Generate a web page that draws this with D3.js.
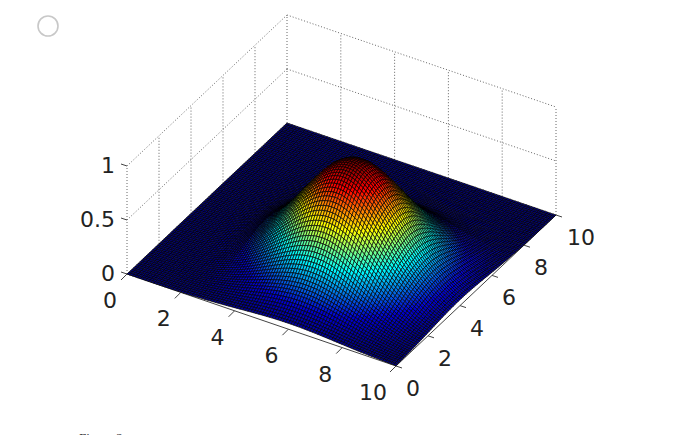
<!DOCTYPE html>
<html><head><meta charset="utf-8">
<script src="https://cdn.jsdelivr.net/npm/d3@7"></script>
<style>html,body{margin:0;padding:0;background:#fff;overflow:hidden}svg{display:block}</style>
</head><body><svg id="c" width="699" height="435"></svg>
<script>
const xTicks=[0,2,4,6,8,10];
const yTicks=[0,2,4,6,8,10];
const zTicks=[0,0.5,1];
const peakHeight=0.99;
// mesh line positions shared by both floor axes
const gridX=[0,.1,.2,.3,.4,.5,.6,.7,.8,.9,1,1.1,1.2,1.3,1.4,1.5,1.6,1.7,1.8,1.9,2,2.1,2.2,2.3,2.4,2.5,2.6,2.7,2.8,2.9,3,3.1,3.2,3.3,3.4,3.5,3.6,3.7,3.8,3.9,4,4.1,4.2,4.3,4.4,4.5,4.6,4.7,4.8,4.9,5,5.1,5.2,5.3,5.4,5.5,5.6,5.7,5.8,5.9,6,6.1,6.2,6.3,6.4,6.5,6.6,6.7,6.8,6.9,7,7.1,7.2,7.3,7.4,7.5,7.6,7.7,7.8,7.9,8,8.1,8.2,8.3,8.4,8.5,8.6,8.7,8.8,8.9,9,9.1,9.2,9.3,9.4,9.5,9.6,9.7,9.8,9.9,10];
// relative height along x, one value per mesh line
const profileX=[.0012,.0015,.0018,.0023,.0028,.0034,.0042,.0051,.0063,.0077,.0094,.0114,.0138,.0167,.0200,.0240,.0285,.0338,.0400,.0470,.0553,.0657,.0777,.0913,.1070,.1247,.1445,.1668,.1922,.2122,.2339,.2576,.2824,.3088,.3361,.3653,.3953,.4262,.4582,.4910,.5245,.5587,.5932,.6275,.6619,.6957,.7289,.7614,.7929,.8228,.8510,.8776,.9020,.9240,.9436,.9605,.9745,.9856,.9936,.9984,1,.9984,.9936,.9856,.9745,.9605,.9436,.9240,.9020,.8776,.8510,.8228,.7929,.7614,.7289,.6957,.6619,.6275,.5932,.5587,.5245,.4910,.4582,.4262,.3953,.3653,.3361,.3088,.2824,.2576,.2339,.2122,.1922,.1668,.1445,.1247,.1070,.0913,.0777,.0657,.0553];
// relative height along y, one value per mesh line
const profileY=[.0553,.0657,.0777,.0913,.1070,.1247,.1445,.1668,.1922,.2122,.2339,.2576,.2824,.3088,.3361,.3653,.3953,.4262,.4582,.4910,.5245,.5587,.5932,.6275,.6619,.6957,.7289,.7614,.7929,.8228,.8510,.8776,.9020,.9240,.9436,.9605,.9745,.9856,.9936,.9984,1,.9984,.9936,.9856,.9745,.9605,.9436,.9240,.9020,.8776,.8510,.8228,.7929,.7614,.7289,.6957,.6619,.6275,.5932,.5587,.5245,.4910,.4582,.4262,.3953,.3653,.3361,.3088,.2824,.2576,.2339,.2122,.1922,.1668,.1445,.1247,.1070,.0913,.0777,.0657,.0553,.0470,.0400,.0338,.0285,.0240,.0200,.0167,.0138,.0114,.0094,.0077,.0063,.0051,.0042,.0034,.0028,.0023,.0018,.0015,.0012];
const jetStops=[0,0.125,0.375,0.625,0.875,1];
const jetColors=["#000080","#0000d8","#00ffff","#ffff00","#ff0000","#800000"];

const svg=d3.select("#c");
svg.append("defs").append("filter").attr("id","soft").attr("x","-5%").attr("y","-5%").attr("width","110%").attr("height","110%")
  .append("feGaussianBlur").attr("stdDeviation",0.5);
const xToX=d3.scaleLinear().domain([0,10]).range([0,269]);
const xToY=d3.scaleLinear().domain([0,10]).range([0,92]);
const yToX=d3.scaleLinear().domain([0,10]).range([0,160]);
const yToY=d3.scaleLinear().domain([0,10]).range([0,-151]);
const zToY=d3.scaleLinear().domain([0,1]).range([0,-108]);
const ox=127, oy=274;
const P=(x,y,z)=>[ox+xToX(x)+yToX(y), oy+xToY(x)+yToY(y)+zToY(z)];
const line=d3.line();
const jet=d3.scaleLinear().domain(jetStops).range(jetColors).interpolate(d3.interpolateRgb);

// walls
const grid=svg.append("g").attr("fill","none").attr("stroke","#555").attr("stroke-width",0.9).attr("stroke-dasharray","1,2");
yTicks.forEach(y=>grid.append("path").attr("d",line([P(0,y,0),P(0,y,1)])));
xTicks.slice(1).forEach(x=>grid.append("path").attr("d",line([P(x,10,0),P(x,10,1)])));
zTicks.slice(1).forEach(z=>{
  grid.append("path").attr("d",line([P(0,0,z),P(0,10,z)]));
  grid.append("path").attr("d",line([P(0,10,z),P(10,10,z)]));
});

// axis lines
const ax=svg.append("g").attr("fill","none").attr("stroke","#444").attr("stroke-width",1);
ax.append("path").attr("d",line([P(0,0,0),P(10,0,0)]));
ax.append("path").attr("d",line([P(10,0,0),P(10,10,0)]));
xTicks.forEach(x=>{const a=P(x,0,0);ax.append("path").attr("d",line([a,[a[0]-6,a[1]+6]]));});
yTicks.forEach(y=>{const a=P(10,y,0);ax.append("path").attr("d",line([a,[a[0]+6,a[1]+2]]));});
zTicks.forEach(z=>{const a=P(0,0,z);ax.append("path").attr("d",line([a,[a[0]-6,a[1]-2]]));});

// surface, painted back to front
const cells=[];
const n=gridX.length-1;
const h=(i,j)=>peakHeight*profileX[i]*profileY[j];
for(let i=0;i<n;i++)for(let j=n-1;j>=0;j--)cells.push([i,j]);
svg.append("g").attr("filter","url(#soft)").attr("stroke","#000").attr("stroke-width",0.7).attr("stroke-linejoin","round")
 .selectAll("path").data(cells).join("path")
 .attr("d",([i,j])=>line([P(gridX[i],gridX[j],h(i,j)),P(gridX[i+1],gridX[j],h(i+1,j)),P(gridX[i+1],gridX[j+1],h(i+1,j+1)),P(gridX[i],gridX[j+1],h(i,j+1))])+"Z")
 .attr("fill",([i,j])=>jet(h(i,j)/peakHeight));

// tick labels
const lab=svg.append("g").attr("font-family","DejaVu Sans").attr("font-size",22).attr("fill","#222").attr("text-anchor","middle");
const xLabelPos=xTicks.map(x=>{const a=P(x,0,0);return [a[0]-17,a[1]+34];});
lab.selectAll("text.x").data(xTicks).join("text").attr("class","x").text(d=>d)
 .attr("x",(d,i)=>xLabelPos[i][0]+(d==10?-6:0)).attr("y",(d,i)=>xLabelPos[i][1]);
lab.selectAll("text.y").data(yTicks).join("text").attr("class","y").text(d=>d)
 .attr("x",d=>P(10,d,0)[0]+(d==10?25:17)).attr("y",d=>P(10,d,0)[1]+30);
lab.selectAll("text.z").data(zTicks).join("text").attr("class","z").text(d=>d)
 .attr("text-anchor","end").attr("x",115).attr("y",d=>P(0,0,d)[1]+7);

// page furniture around the chart
svg.append("circle").attr("cx",48).attr("cy",26).attr("r",10).attr("fill","#fff").attr("stroke","#c8c8c8").attr("stroke-width",1.6);
svg.append("text").attr("x",79).attr("y",442).attr("font-family","Liberation Serif").attr("font-size",13).attr("fill","#333").text("Figure 2");
</script></body></html>
